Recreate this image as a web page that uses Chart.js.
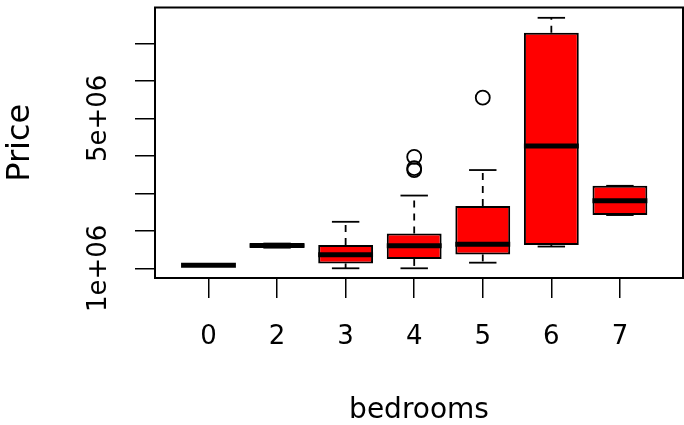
<!DOCTYPE html>
<html>
<head>
<meta charset="utf-8">
<script src="https://cdn.jsdelivr.net/npm/chart.js@4/dist/chart.umd.min.js"></script>
<style>
  html, body { margin: 0; padding: 0; background: #fff; }
  #wrap { width: 684px; height: 425px; }
</style>
</head>
<body>
<div id="wrap"><canvas id="c" width="684" height="425"></canvas></div>
<script>
  // bedrooms groups
  const categories = ['0', '2', '3', '4', '5', '6', '7'];
  const whiskerLow  = [1.083e6, 1.55e6, 1.00e6, 1.00e6, 1.15e6, 1.58e6, 2.42e6];
  const quart1      = [1.083e6, 1.56e6, 1.13e6, 1.25e6, 1.37e6, 1.62e6, 2.42e6];
  const medians     = [1.083e6, 1.61e6, 1.36e6, 1.60e6, 1.64e6, 4.26e6, 2.80e6];
  const quart3      = [1.083e6, 1.65e6, 1.62e6, 1.93e6, 2.66e6, 7.28e6, 3.20e6];
  const whiskerHigh = [1.083e6, 1.66e6, 2.24e6, 2.94e6, 3.62e6, 7.68e6, 3.20e6];
  // outliers: group index + price
  const outlierGroup = [3, 3, 3, 4];
  const outlierPrice = [3.97e6, 3.67e6, 3.62e6, 5.55e6];

  const yTickValues = [1e6, 2e6, 3e6, 4e6, 5e6, 6e6, 7e6];
  const yTickLabels = ['1e+06', '', '', '', '5e+06', '', ''];

  const FONT = 'DejaVu Sans';
  const BOX_HALF = 0.4;   // half box width, in x units
  const CAP_HALF = 0.2;   // half staple width

  const boxParts = {
    id: 'boxParts',
    afterDatasetsDraw(chart) {
      const { ctx, scales: { x, y } } = chart;
      const seg = (x1, y1, x2, y2) => {
        ctx.beginPath(); ctx.moveTo(x1, y1); ctx.lineTo(x2, y2); ctx.stroke();
      };
      ctx.save();
      ctx.strokeStyle = '#000';
      categories.forEach((c, i) => {
        const cx = x.getPixelForValue(i);
        const capL = x.getPixelForValue(i - CAP_HALF);
        const capR = x.getPixelForValue(i + CAP_HALF);
        const boxL = x.getPixelForValue(i - BOX_HALF);
        const boxR = x.getPixelForValue(i + BOX_HALF);
        const yLo = y.getPixelForValue(whiskerLow[i]);
        const yHi = y.getPixelForValue(whiskerHigh[i]);
        const yQ1 = y.getPixelForValue(quart1[i]);
        const yQ3 = y.getPixelForValue(quart3[i]);
        // dashed whiskers
        ctx.lineWidth = 1.8;
        ctx.lineCap = 'butt';
        ctx.setLineDash([7, 6]);
        if (yHi < yQ3) seg(cx, yQ3, cx, yHi);
        if (yLo > yQ1) seg(cx, yQ1, cx, yLo);
        ctx.setLineDash([]);
        // staples
        seg(capL, yHi, capR, yHi);
        seg(capL, yLo, capR, yLo);
        // median
        ctx.lineWidth = 5;
        const yMed = y.getPixelForValue(medians[i]);
        seg(boxL, yMed, boxR, yMed);
      });
      ctx.restore();
    },
    afterDraw(chart) {
      // R style box round the plot region
      const { ctx, chartArea: a } = chart;
      ctx.save();
      ctx.strokeStyle = '#000';
      ctx.lineWidth = 2;
      ctx.strokeRect(a.left, a.top, a.right - a.left, a.bottom - a.top);
      ctx.restore();
    }
  };

  new Chart(document.getElementById('c').getContext('2d'), {
    type: 'bar',
    data: {
      datasets: [
        {
          label: 'box',
          data: categories.map((c, i) => ({ x: i, y: [quart1[i], quart3[i]] })),
          backgroundColor: '#ff0000',
          borderColor: '#000000',
          borderWidth: 2,
          borderSkipped: false,
          barPercentage: 0.8,
          categoryPercentage: 1.0
        },
        {
          type: 'scatter',
          label: 'outliers',
          data: outlierPrice.map((p, i) => ({ x: outlierGroup[i], y: p })),
          pointStyle: 'circle',
          pointRadius: 7,
          backgroundColor: 'rgba(0,0,0,0)',
          borderColor: '#000000',
          borderWidth: 1.8
        }
      ]
    },
    options: {
      responsive: false,
      animation: false,
      devicePixelRatio: 1,
      // the outlier points would otherwise pad the plot area
      layout: { autoPadding: false, padding: { top: 7.5, right: 1, left: 0, bottom: 0 } },
      plugins: { legend: { display: false }, tooltip: { enabled: false } },
      scales: {
        x: {
          type: 'linear',
          min: -0.78,
          max: 6.92,
          offset: false,
          afterBuildTicks: (s) => { s.ticks = categories.map((c, i) => ({ value: i })); },
          afterFit: (s) => { s.height = 147; },
          ticks: {
            callback: (v) => categories[v],
            color: '#000',
            font: { family: FONT, size: 26 },
            padding: 24,
            maxRotation: 0,
            autoSkip: false
          },
          grid: { display: true, drawOnChartArea: false, drawTicks: true, tickLength: 20, color: '#000', lineWidth: 1.5, offset: false },
          border: { display: true, color: '#000', width: 2 },
          title: { display: true, text: 'bedrooms', color: '#000', font: { family: FONT, size: 28, lineHeight: 1 }, padding: { top: 0, bottom: 0 } }
        },
        y: {
          type: 'linear',
          min: 741300,
          max: 7955000,
          afterBuildTicks: (s) => { s.ticks = yTickValues.map(v => ({ value: v })); },
          afterFit: (s) => { s.width = 155; s.paddingTop = 0; s.paddingBottom = 0; },
          ticks: {
            callback: (v, i) => yTickLabels[i],
            color: '#000',
            font: { family: FONT, size: 26 },
            minRotation: 90,
            maxRotation: 90,
            crossAlign: 'center',
            padding: -8,
            autoSkip: false
          },
          grid: { display: true, drawOnChartArea: false, drawTicks: true, tickLength: 20, color: '#000', lineWidth: 1.5 },
          border: { display: true, color: '#000', width: 2 },
          title: { display: true, text: 'Price', color: '#000', font: { family: FONT, size: 32, lineHeight: 1 }, padding: { top: 4.5, bottom: 0 } }
        }
      }
    },
    plugins: [boxParts]
  });
</script>
</body>
</html>
